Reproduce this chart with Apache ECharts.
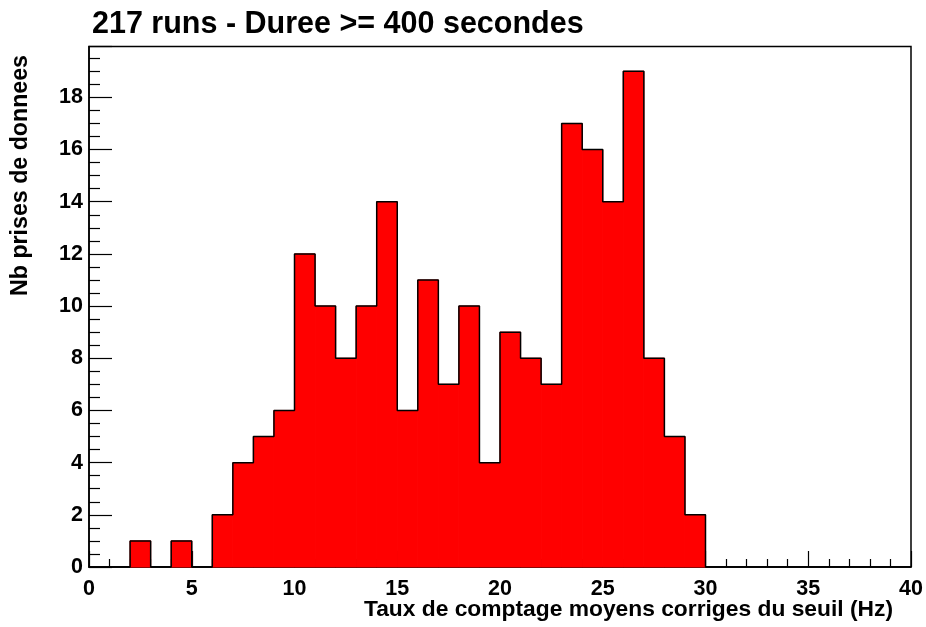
<!DOCTYPE html>
<html>
<head>
<meta charset="utf-8">
<script src="https://cdn.jsdelivr.net/npm/echarts@6/dist/echarts.min.js"></script>
<style>
  html, body { margin: 0; padding: 0; background: #fff; }
  #chart { width: 926px; height: 627px; }
</style>
</head>
<body>
<div id="chart"></div>
<script>
// Histogram: one count per 1 Hz bin, bins start at these lower edges
const binEdges = [0, 1, 2, 3, 4, 5, 6, 7, 8, 9, 10, 11, 12, 13, 14, 15, 16, 17, 18, 19,
                  20, 21, 22, 23, 24, 25, 26, 27, 28, 29, 30, 31, 32, 33, 34, 35, 36, 37, 38, 39];
const counts = [0, 0, 1, 0, 1, 0, 2, 4, 5, 6, 12, 10, 8, 10, 14, 6, 11, 7, 10, 4,
                9, 8, 7, 17, 16, 14, 19, 8, 5, 2, 0, 0, 0, 0, 0, 0, 0, 0, 0, 0];
const binWidth = 1;
const xRange = [0, 40];
const yRange = [0, 19.95];

const titleText = '217 runs - Duree >= 400 secondes';
const xTitle = 'Taux de comptage moyens corriges du seuil (Hz)';
const yTitle = 'Nb prises de donnees';

const FONT = '"Liberation Sans", Arial, Helvetica, sans-serif';

// bin rectangles [left edge, count]
const barData = binEdges.map((x, i) => [x, counts[i]]);
// outline of the histogram as a step line (last point closes the final bin)
const outlineData = binEdges.map((x, i) => [x, counts[i]]);
outlineData.push([binEdges[binEdges.length - 1] + binWidth, counts[counts.length - 1]]);

const chart = echarts.init(document.getElementById('chart'), null, { renderer: 'canvas' });

chart.setOption({
  backgroundColor: '#ffffff',
  animation: false,
  grid: {
    left: 89, right: 15, top: 46.5, bottom: 60,
    show: true, borderColor: '#000', borderWidth: 1.5, backgroundColor: 'transparent'
  },
  title: {
    text: titleText,
    left: 87, top: 4,
    textStyle: { fontFamily: FONT, fontWeight: 'bold', fontSize: 30.5, color: '#000' }
  },
  graphic: [
    {
      type: 'text',
      x: 893, y: 610,
      style: {
        text: xTitle, fill: '#000',
        font: 'bold 22.8px ' + FONT,
        textAlign: 'right', textVerticalAlign: 'middle'
      }
    },
    {
      type: 'text',
      x: 21, y: 55,
      rotation: Math.PI / 2,
      style: {
        text: yTitle, fill: '#000',
        font: 'bold 23.2px ' + FONT,
        textAlign: 'right', textVerticalAlign: 'middle'
      }
    }
  ],
  xAxis: {
    type: 'value',
    min: xRange[0], max: xRange[1], interval: 5,
    axisLine: { show: true, onZero: false, lineStyle: { color: '#000', width: 1.5 } },
    axisTick: { show: true, inside: true, length: 16, lineStyle: { color: '#000', width: 1.2 } },
    minorTick: { show: true, splitNumber: 5, length: 8, lineStyle: { color: '#000', width: 1.2 } },
    splitLine: { show: false },
    axisLabel: {
      margin: 11, color: '#000', fontFamily: FONT, fontWeight: 'bold', fontSize: 21.5
    }
  },
  yAxis: {
    type: 'value',
    min: yRange[0], max: yRange[1], interval: 2,
    axisLine: { show: true, onZero: false, lineStyle: { color: '#000', width: 1.5 } },
    axisTick: { show: true, inside: true, length: 23, lineStyle: { color: '#000', width: 1.2 } },
    minorTick: { show: true, splitNumber: 4, length: 11, lineStyle: { color: '#000', width: 1.2 } },
    splitLine: { show: false },
    axisLabel: {
      margin: 6, color: '#000', fontFamily: FONT, fontWeight: 'bold', fontSize: 21.5,
      showMaxLabel: false,
      formatter: v => (Math.abs(v - Math.round(v)) < 1e-6 && Math.round(v) % 2 === 0) ? String(Math.round(v)) : ''
    }
  },
  series: [
    {
      type: 'custom',
      data: barData,
      renderItem: function (params, api) {
        const x0 = api.value(0);
        const v = api.value(1);
        if (!v) return null;
        const p0 = api.coord([x0, v]);
        const p1 = api.coord([x0 + binWidth, 0]);
        return {
          type: 'rect',
          shape: { x: p0[0], y: p0[1], width: p1[0] - p0[0], height: p1[1] - p0[1] },
          style: { fill: '#ff0000', stroke: '#ff0000', lineWidth: 1 }
        };
      },
      z: 2
    },
    {
      type: 'line',
      data: outlineData,
      step: 'end',
      symbol: 'none',
      lineStyle: { color: '#000', width: 1.5 },
      z: 3
    }
  ]
});
</script>
</body>
</html>
